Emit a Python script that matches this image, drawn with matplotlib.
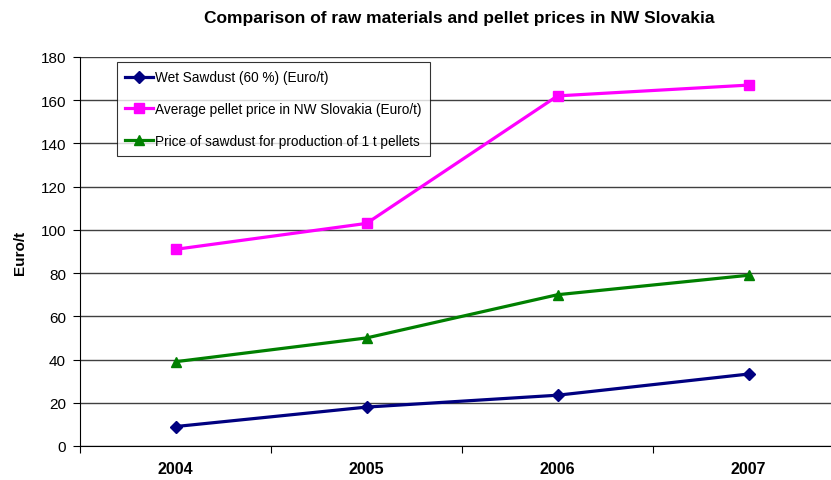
import matplotlib
matplotlib.use("Agg")
import matplotlib.pyplot as plt
import numpy as np

plt.rcParams['font.family'] = ['Liberation Sans', 'DejaVu Sans']

years = ["2004", "2005", "2006", "2007"]
wet_sawdust = [9, 18, 23.5, 33.3]
pellet_price = [91, 103, 162, 167]
sawdust_for_pellets = [39, 50, 70, 79]

labels = ["Wet Sawdust (60 %) (Euro/t)",
          "Average pellet price in NW Slovakia (Euro/t)",
          "Price of sawdust for production of 1 t pellets"]

fig = plt.figure(figsize=(8.31, 4.81), dpi=100)
ax = fig.add_axes([80/831, 1-447/481, (844-80)/831, (447-58)/481])

x = np.arange(len(years))
ax.plot(x, wet_sawdust, color='#000080', lw=2.3, marker='D', ms=6, label=labels[0], clip_on=False, zorder=3)
ax.plot(x, pellet_price, color='#FF00FF', lw=2.3, marker='s', ms=7, label=labels[1], clip_on=False, zorder=3)
ax.plot(x, sawdust_for_pellets, color='#008000', lw=2.3, marker='^', ms=7.5, label=labels[2], clip_on=False, zorder=3)

ax.set_xlim(-0.5, 3.5)
ax.set_ylim(0, 180)
ax.set_yticks(np.arange(0, 181, 20))
ax.yaxis.grid(True, color='#404040', lw=1)
ax.set_axisbelow(True)

ax.set_xticks(np.arange(-0.5, 3.6, 1.0))
ax.set_xticklabels([])
ax.set_xticks(x, minor=True)
ax.set_xticklabels(years, minor=True, fontweight='bold', fontsize=11.5)
ax.tick_params(axis='x', which='minor', length=0, pad=11)
ax.tick_params(axis='x', which='major', length=5, direction='out', color='black')
ax.tick_params(axis='y', length=5, direction='out', labelsize=11, pad=5)

for s in ['top', 'right']:
    ax.spines[s].set_visible(False)
ax.spines['left'].set_color('black')
ax.spines['bottom'].set_color('black')

ax.set_ylabel("Euro/t", fontweight='bold', fontsize=11, labelpad=10)
fig.text(459/831, 1-18.5/481, "Comparison of raw materials and pellet prices in NW Slovakia",
         ha='center', va='center', fontweight='bold', fontsize=12.5)

leg = ax.legend(loc='upper left', bbox_to_anchor=((117-80)/764, (447-63)/389),
                frameon=True, fancybox=False, shadow=False, fontsize=9.8,
                numpoints=1, handlelength=2.0, handletextpad=0.2,
                labelspacing=1.3, borderpad=0.62, borderaxespad=0)
leg.get_frame().set_edgecolor('black')
leg.get_frame().set_linewidth(0.8)

fig.savefig("out.png", dpi=100)
